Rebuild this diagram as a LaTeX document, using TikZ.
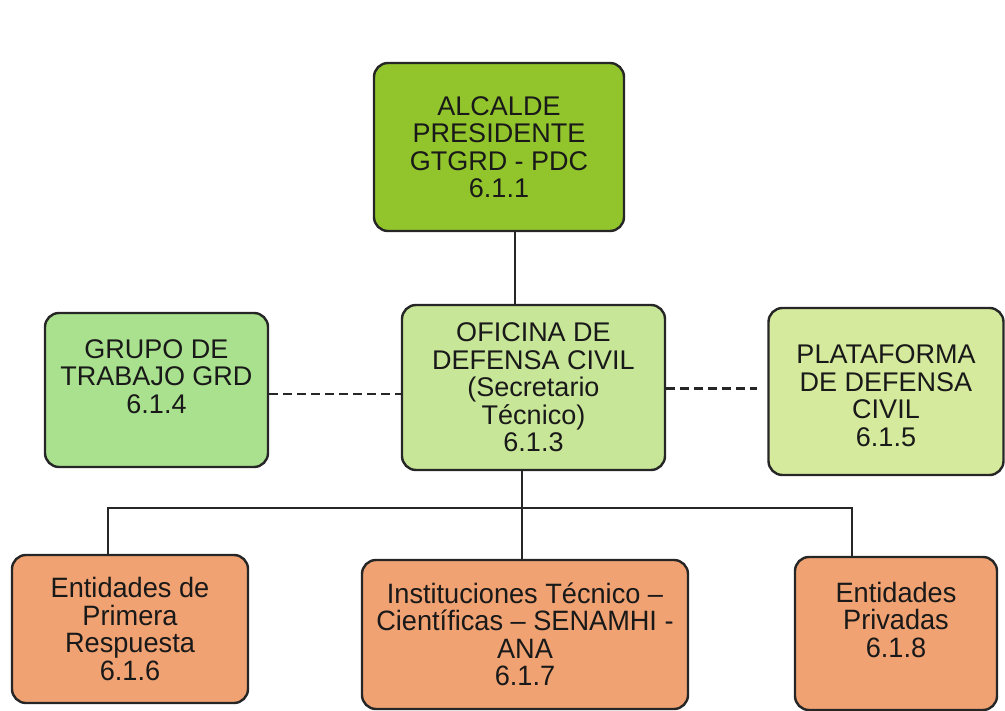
\documentclass[tikz,border=0pt]{standalone}
\usepackage{fontspec}
\setmainfont{Liberation Sans}
\newfontfamily\narrowsf[FakeStretch=0.97]{Liberation Sans}
\definecolor{alcaldegreen}{RGB}{146,196,44}
\definecolor{oficgreen}{RGB}{200,230,152}
\definecolor{grupogreen}{RGB}{170,225,142}
\definecolor{platgreen}{RGB}{213,234,156}
\definecolor{entsalmon}{RGB}{240,162,115}

\begin{document}
\begin{tikzpicture}[x=1pt,y=-1pt]
  \tikzset{unitbox/.style={draw=black!85, line width=2.4pt, rounded corners=14pt,
      align=center, inner sep=0pt, text=black!90,
      font=\fontsize{27}{27.5}\selectfont},
    entbox/.style={unitbox, fill=entsalmon, font=\narrowsf\fontsize{28}{27.5}\selectfont},
    link/.style={line width=2.5pt, draw=black!85},
    dashlink/.style={link, dash pattern=on 9pt off 5pt}}
  \useasboundingbox (0,0) rectangle (1005,711);
  \node[unitbox, fill=alcaldegreen, minimum width=250pt, minimum height=168pt] (alc) at (499,147)
    {ALCALDE\\PRESIDENTE\\GTGRD - PDC\\6.1.1};
  \node[unitbox, fill=oficgreen, minimum width=263pt, minimum height=165pt] (ofic) at (533.5,387.5)
    {OFICINA DE\\DEFENSA CIVIL\\(Secretario\\Técnico)\\6.1.3};
  \node[unitbox, fill=grupogreen, minimum width=223pt, minimum height=154pt] (grupo) at (156.5,390)
    {GRUPO DE\\TRABAJO GRD\\6.1.4\\\mbox{}};
  \node[unitbox, fill=platgreen, minimum width=235pt, minimum height=167pt] (plat) at (886,391.5)
    {\mbox{}\\PLATAFORMA\\DE DEFENSA\\CIVIL\\6.1.5};
  \node[entbox, minimum width=236pt, minimum height=148pt] (ent1) at (130,629)
    {Entidades de\\Primera\\Respuesta\\6.1.6};
  \node[entbox, minimum width=326pt, minimum height=149pt] (inst) at (525,634.5)
    {Instituciones Técnico –\\Científicas – SENAMHI -\\ANA\\6.1.7};
  \node[entbox, minimum width=202pt, minimum height=153pt] (entp) at (896,633.5)
    {Entidades\\Privadas\\6.1.8\\\mbox{}};
  \coordinate (busl) at (108,508);
  \coordinate (busm) at (522,508);
  \coordinate (busr) at (852,508);
  \draw[link] ([xshift=16pt]alc.south) -- ([xshift=16pt]alc.south |- ofic.north);
  \draw[dashlink] ([yshift=-4pt]grupo.east) -- ([yshift=-4pt]grupo.east -| ofic.west);
  \draw[dashlink, shorten >=10pt] ([yshift=-1pt]ofic.east) -- ([yshift=-1pt]ofic.east -| plat.west);
  \draw[link] (busm |- ofic.south) -- (busm) -- (busm |- inst.north);
  \draw[link] (busl |- ent1.north) -- (busl) -- (busr) -- (busr |- entp.north);
\end{tikzpicture}
\end{document}
